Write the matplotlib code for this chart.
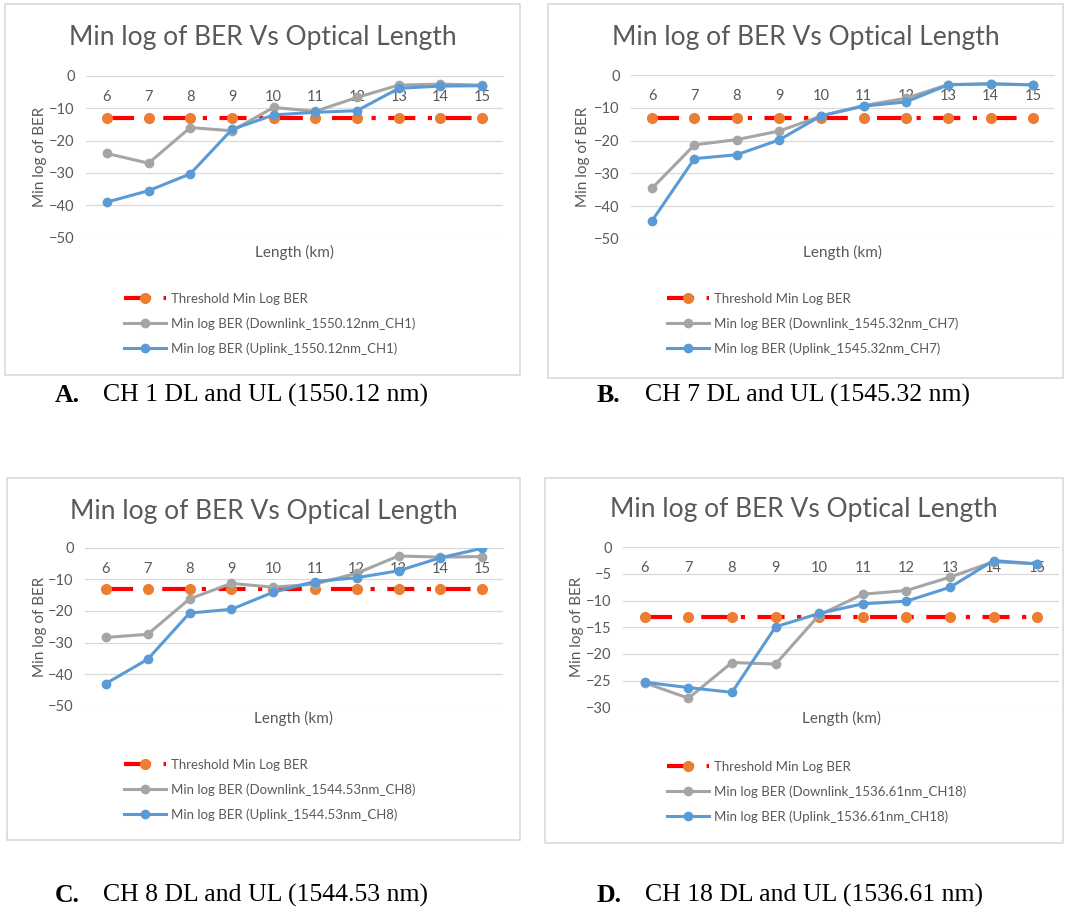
import matplotlib
matplotlib.use("Agg")
import matplotlib.pyplot as plt
from matplotlib.patches import Rectangle

W, H = 1065, 914

# --- data ---
lengths = [6, 7, 8, 9, 10, 11, 12, 13, 14, 15]
threshold = [-13, -13, -13, -13, -13, -13, -13, -13, -13, -13]

ch1_down = [-24.0, -27.0, -16.0, -17.0, -9.8, -11.0, -6.7, -2.9, -2.6, -2.9]
ch1_up = [-39.0, -35.5, -30.3, -16.6, -12.1, -11.3, -10.8, -3.9, -3.2, -3.1]

ch7_down = [-34.5, -21.3, -19.7, -17.1, -12.5, -9.3, -7.1, -2.9, -2.7, -3.0]
ch7_up = [-44.4, -25.5, -24.3, -19.8, -12.4, -9.5, -8.2, -3.0, -2.7, -3.0]

ch8_down = [-28.4, -27.4, -16.2, -11.3, -12.5, -11.5, -8.1, -2.6, -3.0, -2.8]
ch8_up = [-43.0, -35.3, -20.7, -19.5, -14.1, -10.7, -9.5, -7.3, -3.2, -0.2]

ch18_down = [-25.4, -28.3, -21.6, -21.9, -12.7, -8.8, -8.1, -5.6, -2.7, -3.1]
ch18_up = [-25.3, -26.3, -27.2, -14.9, -12.4, -10.6, -10.1, -7.5, -2.5, -3.1]

captions = ["CH 1 DL and UL (1550.12 nm)", "CH 7 DL and UL (1545.32 nm)",
            "CH 8 DL and UL (1544.53 nm)", "CH 18 DL and UL (1536.61 nm)"]
letters = ["A.", "B.", "C.", "D."]
tags = ["1550.12nm_CH1", "1545.32nm_CH7", "1544.53nm_CH8", "1536.61nm_CH18"]

# layout in pixels: box, axes (x0, x1, ytop, ybottom), ylim, yticks step
panels = [
    dict(down=ch1_down, up=ch1_up, box=(5, 4, 520, 375), ax=(86, 503, 75.7, 237.7),
         ylim=-50, step=10, title_y=38, ylab_x=40, xlab_y=252, leg=(117, 286),
         cap=(55, 395)),
    dict(down=ch7_down, up=ch7_up, box=(548, 4, 1063, 378), ax=(631, 1054, 75, 239),
         ylim=-50, step=10, title_y=37, ylab_x=583, xlab_y=252, leg=(660, 286),
         cap=(597, 395)),
    dict(down=ch8_down, up=ch8_up, box=(7, 478, 520, 840), ax=(85, 503, 547.7, 705.7),
         ylim=-50, step=10, title_y=512, ylab_x=40, xlab_y=718, leg=(117, 752),
         cap=(55, 895)),
    dict(down=ch18_down, up=ch18_up, box=(545, 478, 1063, 843), ax=(623, 1059, 547.3, 707.3),
         ylim=-30, step=5, title_y=510, ylab_x=577, xlab_y=718, leg=(660, 754),
         cap=(597, 895)),
]

FONT = "Lato"
GREY_TXT = "#595959"


def fx(px):
    return px / W


def fy(py):
    return 1 - py / H


fig = plt.figure(figsize=(W / 100, H / 100), dpi=100)

for i, p in enumerate(panels):
    bx0, by0, bx1, by1 = p["box"]
    fig.patches.append(Rectangle((fx(bx0), fy(by1)), fx(bx1 - bx0), (by1 - by0) / H,
                                 transform=fig.transFigure, fill=False,
                                 edgecolor="#D9D9D9", lw=1.2))
    x0, x1, yt, yb = p["ax"]
    ax = fig.add_axes([fx(x0), fy(yb), fx(x1 - x0), (yb - yt) / H])

    thr, = ax.plot(lengths, threshold, color="#FF0000", lw=3,
                   marker="o", ms=7, mfc="#ED7D31", mec="#ED7D31",
                   dash_capstyle="butt", label="Threshold Min Log BER", zorder=3)
    thr.set_dashes((6.5, 3, 1, 3))
    dl, = ax.plot(lengths, p["down"], color="#A5A5A5", lw=2.2, marker="o", ms=6,
                  label=f"Min log BER (Downlink_{tags[i]})", zorder=4)
    ul, = ax.plot(lengths, p["up"], color="#5B9BD5", lw=2.2, marker="o", ms=6,
                  label=f"Min log BER (Uplink_{tags[i]})", zorder=5)

    ax.set_xlim(5.5, 15.5)
    ax.set_ylim(p["ylim"], 0)
    ax.set_yticks(range(p["ylim"], 1, p["step"]))
    ax.set_xticks(lengths)
    ax.grid(axis="y", color="#D9D9D9", lw=0.9)
    ax.set_axisbelow(True)
    for s in ["top", "right", "left"]:
        ax.spines[s].set_visible(False)
    ax.spines["bottom"].set_position(("data", 0))
    ax.spines["bottom"].set_color("#D9D9D9")
    ax.tick_params(axis="both", length=0, labelsize=10.5, labelcolor=GREY_TXT)
    ax.tick_params(axis="x", pad=10)
    ax.tick_params(axis="y", pad=8)
    for lab in ax.get_xticklabels() + ax.get_yticklabels():
        lab.set_fontfamily(FONT)

    # titles and axis titles
    fig.text(fx((bx0 + bx1) / 2), fy(p["title_y"]), "Min log of BER Vs Optical Length",
             ha="center", va="center", fontsize=19, color=GREY_TXT, family=FONT)
    fig.text(fx(p["ylab_x"]), fy((yt + yb) / 2), "Min log of BER", rotation=90,
             ha="center", va="center", fontsize=11, color=GREY_TXT, family=FONT)
    fig.text(fx((x0 + x1) / 2), fy(p["xlab_y"]), "Length (km)",
             ha="center", va="center", fontsize=11, color=GREY_TXT, family=FONT)

    lx, ly = p["leg"]
    fig.legend(handles=[thr, dl, ul], loc="upper left",
               bbox_to_anchor=(fx(lx), fy(ly)), bbox_transform=fig.transFigure,
               frameon=False, numpoints=1, handlelength=3.2, handletextpad=0.4,
               labelspacing=0.95, borderpad=0,
               prop={"family": FONT, "size": 9.5}, labelcolor=GREY_TXT)

    cx, cy = p["cap"]
    fig.text(fx(cx), fy(cy), letters[i], ha="left", va="center", fontsize=18.5,
             fontweight="bold", family="Liberation Serif")
    fig.text(fx(cx + 48), fy(cy), captions[i], ha="left", va="center", fontsize=18.5,
             family="Liberation Serif")

fig.savefig("out.png", dpi=100)
